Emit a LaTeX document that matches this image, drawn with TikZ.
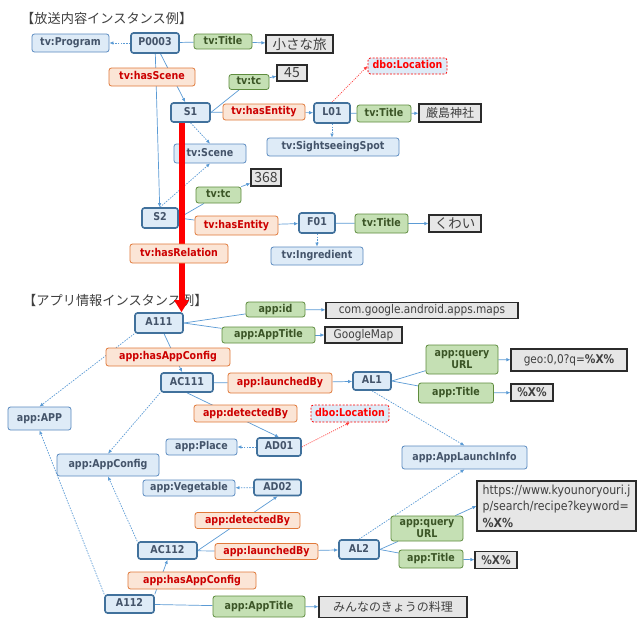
\documentclass[tikz,border=0pt]{standalone}
\usepackage{fontspec}
\setmainfont{DejaVu Sans}[FakeStretch=0.88]
\newfontfamily\jp{Noto Sans CJK JP}
\usetikzlibrary{arrows.meta}

\definecolor{bluefill}{HTML}{DEEBF7}
\definecolor{clsline}{HTML}{5A8AC0}
\definecolor{instline}{HTML}{41719C}
\definecolor{slate}{HTML}{44546A}
\definecolor{propfill}{HTML}{FBE5D6}
\definecolor{propline}{HTML}{E0793A}
\definecolor{proptext}{HTML}{CC0000}
\definecolor{attrfill}{HTML}{C5E0B4}
\definecolor{attrline}{HTML}{5E8C3E}
\definecolor{attrtext}{HTML}{3B5526}
\definecolor{litfill}{HTML}{E6E6E6}
\definecolor{litline}{HTML}{2B2B2B}
\definecolor{littext}{HTML}{404040}
\definecolor{edge}{HTML}{5B9BD5}
\definecolor{dboline}{HTML}{FF3B3B}
\definecolor{headtext}{HTML}{404040}

\newcommand\labfont{\bfseries\fontsize{10.8}{12.5}\selectfont}
\newcommand\litfont{\fontsize{12}{14}\selectfont}

\pgfdeclarelayer{bg}
\pgfsetlayers{bg,main}

\tikzset{
  box/.style={rounded corners=2.5pt, inner sep=0pt, align=center, font=\labfont},
  oneline/.style={text height=8pt, text depth=2.3pt},
  cls/.style={box, oneline, draw=clsline, line width=0.8pt, fill=bluefill, text=slate},
  inst/.style={box, oneline, draw=instline, line width=1.6pt, fill=bluefill, text=slate},
  prop/.style={box, oneline, draw=propline, line width=0.8pt, fill=propfill, text=proptext},
  attrbase/.style={box, draw=attrline, line width=0.8pt, fill=attrfill, text=attrtext},
  attr/.style={attrbase, oneline},
  dbo/.style={box, oneline, draw=red, dash pattern=on 2pt off 1.5pt, line width=0.8pt, fill=bluefill, text=red},
  lit/.style={draw=litline, line width=1.1pt, fill=litfill, text=littext, inner sep=0pt, font=\litfont},
  jplit/.style={lit, font=\jp\fontsize{#1}{15}\selectfont},
  head/.style={anchor=west, inner sep=0pt, text=headtext, font=\jp\fontsize{13.2}{15}\selectfont},
  link/.style={draw=edge, line width=0.7pt},
  arr/.style={link, -{Latex[length=4pt,width=3.5pt]}},
  typ/.style={arr, dash pattern=on 1.5pt off 1.2pt},
  reltyp/.style={draw=dboline, line width=0.7pt, dash pattern=on 1pt off 1.2pt, -{Latex[length=4pt,width=3.5pt]}},
  bigred/.style={draw=red, line width=6pt, -{Triangle[length=12pt,width=14pt]}},
  wh/.style 2 args={minimum width=#1, minimum height=#2},
}

\begin{document}
\begin{tikzpicture}[x=1pt,y=-1pt]
\useasboundingbox (0,0) rectangle (637,619);

% ---------- broadcast content instances ----------
\node[head] (head1) at (21,18.5) {【放送内容インスタンス例】};

\node[cls, wh={77}{18}] (tvProgram) at (70.5,43) {tv:Program};
\node[inst, wh={48}{20}] (P0003) at (155,43) {P0003};
\node[attr, wh={58}{15}] (tvTitle1) at (223,41.5) {tv:Title};
\node[jplit=13.5, wh={67}{18}] (lit1) at (299.5,44) {小さな旅};
\node[prop, wh={86}{18}] (hasScene) at (152,77) {tv:hasScene};
\node[attr, wh={40}{15}] (tc1) at (249,82) {tv:tc};
\node[jplit=14, wh={30}{16}] (v45) at (292,73) {45};
\node[inst, wh={39}{19}] (S1) at (190.5,112.5) {S1};
\node[prop, wh={82}{16}] (hasEnt1) at (264,112) {tv:hasEntity};
\node[inst, wh={36}{20}] (L01) at (332,113) {L01};
\node[attr, wh={54}{17}] (tvTitle2) at (384,113.5) {tv:Title};
\node[jplit=12, wh={62}{18}] (lit2) at (450,113) {厳島神社};
\node[dbo, wh={79}{16}] (dbo1) at (407.5,66) {dbo:Location};
\node[cls, wh={132}{18}] (SS) at (333,147) {tv:SightseeingSpot};
\node[cls, wh={72}{19}] (Scene) at (210,153.5) {tv:Scene};
\node[attr, wh={45}{16}] (tc2) at (218.5,195) {tv:tc};
\node[jplit=14, wh={30}{17}] (v368) at (266,177.5) {368};
\node[inst, wh={36}{20}] (S2) at (160,218) {S2};
\node[prop, wh={83}{19}] (hasEnt2) at (236.5,225.5) {tv:hasEntity};
\node[inst, wh={36}{20}] (F01) at (317,223) {F01};
\node[attr, wh={53}{19}] (tvTitle3) at (381.5,223.5) {tv:Title};
\node[jplit=13.5, wh={52}{17}] (lit3) at (455,223.5) {くわい};
\node[cls, wh={92}{18}] (Ingr) at (317,256) {tv:Ingredient};

% ---------- app information instances ----------
\node[head] (head2) at (23,300) {【アプリ情報インスタンス例】};

\node[inst, wh={48}{20}] (A111) at (159,323) {A111};
\node[attr, wh={59}{15}] (appid) at (275.5,309.5) {app:id};
\node[lit, wh={192}{16}] (vcom) at (422,310.5) {com.google.android.apps.maps};
\node[attr, wh={93}{16}] (appTitle1) at (268.5,335) {app:AppTitle};
\node[lit, wh={77}{16}] (vGM) at (363.5,335) {GoogleMap};
\node[prop, wh={124}{18}] (hac1) at (168,357) {app:hasAppConfig};
\node[inst, wh={52}{19}] (AC111) at (187,382.5) {AC111};
\node[prop, wh={104}{20}] (lb1) at (280,383) {app:launchedBy};
\node[inst, wh={38}{18}] (AL1) at (372,381) {AL1};
\node[attrbase, wh={72}{29}] (qurl1) at (462,359.5) {app:query\\URL};
\node[lit, wh={116}{22}] (vgeo) at (569,360) {geo:0,0?q=\textbf{\%X\%}};
\node[attr, wh={75}{20}] (title1) at (456,393) {app:Title};
\node[lit, wh={42}{17}] (vpct1) at (532,392.5) {\textbf{\%X\%}};
\node[prop, wh={103}{17}] (dB1) at (245.5,413.5) {app:detectedBy};
\node[dbo, wh={78}{17}] (dbo2) at (350,413.5) {dbo:Location};
\node[cls, wh={63}{23}] (APP) at (39.5,418.5) {app:APP};
\node[cls, wh={71}{16}] (Place) at (201.5,447) {app:Place};
\node[inst, wh={44}{18}] (AD01) at (279,447) {AD01};
\node[cls, wh={102}{22}] (AppConfig) at (108,465) {app:AppConfig};
\node[cls, wh={125}{23}] (ALI) at (464.5,457.5) {app:AppLaunchInfo};
\node[cls, wh={92}{16}] (Veg) at (189,488) {app:Vegetable};
\node[inst, wh={47}{16}] (AD02) at (277.5,487.5) {AD02};
\node[prop, wh={105}{16}] (dB2) at (247.5,520.5) {app:detectedBy};
\node[lit, wh={159}{50}, align=left, font=\fontsize{12.5}{16.5}\selectfont] (https) at (556.5,506)
  {https://www.kyounoryouri.j\\p/search/recipe?keyword=\\\textbf{\%X\%}};
\node[attrbase, wh={72}{25}] (qurl2) at (427,528.5) {app:query\\URL};
\node[inst, wh={59}{17}] (AC112) at (167.5,550.5) {AC112};
\node[prop, wh={103}{16}] (lb2) at (266.5,551.5) {app:launchedBy};
\node[inst, wh={40}{19}] (AL2) at (359,549.5) {AL2};
\node[attr, wh={64}{18}] (title2) at (431,559) {app:Title};
\node[lit, wh={42}{17}] (vpct2) at (496,560) {\textbf{\%X\%}};
\node[prop, wh={128}{17}] (hac2) at (192,580.5) {app:hasAppConfig};
\node[inst, wh={49}{18}] (A112) at (129.5,604) {A112};
\node[attr, wh={92}{21}] (appTitle2) at (259,606.5) {app:AppTitle};
\node[jplit=12, wh={148}{21}] (vmin) at (393,607) {みんなのきょうの料理};

% ---------- connectors (behind the nodes) ----------
\begin{pgfonlayer}{bg}
  \fill[white] (0,0) rectangle (637,619);

  \draw[typ] (P0003) -- (tvProgram);
  \draw[link] (P0003) -- (tvTitle1);
  \draw[arr] (tvTitle1) -- (lit1);
  \draw[arr] (P0003) -- (S1);
  \draw[arr] (P0003) -- (S2);
  \draw[link] (S1.east) -- (tc1);
  \draw[arr] (tc1) -- (v45);
  \draw[link] (S1) -- (hasEnt1);
  \draw[arr] (hasEnt1) -- (L01);
  \draw[link] (L01) -- (tvTitle2);
  \draw[arr] (tvTitle2) -- (lit2);
  \draw[reltyp] (L01.north) -- (dbo1.west);
  \draw[typ] (L01.south) -- (L01.south |- SS.north);
  \draw[typ] (S1.south) -- (Scene.north);
  \draw[typ] (S2.north) -- (Scene.south);
  \draw[link] (S2.east) -- (tc2);
  \draw[arr] (tc2) -- (v368);
  \draw[link] (S2.east) -- (hasEnt2);
  \draw[arr] (hasEnt2) -- (F01);
  \draw[link] (F01) -- (tvTitle3);
  \draw[arr] (tvTitle3) -- (lit3);
  \draw[typ] (F01.south) -- (F01.south |- Ingr.north);

  \draw[link] (A111.east) -- (appid);
  \draw[arr] (appid) -- (vcom);
  \draw[link] (A111.east) -- (appTitle1);
  \draw[arr] (appTitle1) -- (vGM);
  \draw[arr] (A111) -- (AC111);
  \draw[typ] (A111.south west) -- (APP.north);
  \draw[typ] (AC111.south west) -- (AppConfig.north);
  \draw[link] (AC111) -- (lb1);
  \draw[arr] (lb1) -- (AL1);
  \draw[arr] (AC111.south) -- (AD01.north);
  \draw[link] (AL1.east) -- (qurl1);
  \draw[arr] (qurl1) -- (vgeo);
  \draw[link] (AL1.east) -- (title1);
  \draw[arr] (title1) -- (vpct1);
  \draw[typ] (AL1.south) -- (ALI.north);
  \draw[typ] (AD01) -- (Place);
  \draw[reltyp] (AD01.east) -- (dbo2.south);
  \draw[typ] (AD02) -- (Veg);
  \draw[arr] (AC112.east) -- (AD02.south);
  \draw[typ] (AC112.north west) -- (AppConfig.south);
  \draw[link] (AC112) -- (lb2);
  \draw[arr] (lb2) -- (AL2);
  \draw[link] (AL2.east) -- (qurl2);
  \draw[arr] (qurl2) -- (https.west);
  \draw[link] (AL2.east) -- (title2);
  \draw[arr] (title2) -- (vpct2);
  \draw[typ] (AL2.north) -- (ALI.south);
  \draw[arr] (A112.north east) -- (AC112.south);
  \draw[typ] (A112.north west) -- (APP.south);
  \draw[link] (A112) -- (appTitle2);
  \draw[arr] (appTitle2) -- (vmin);
\end{pgfonlayer}

% relation from the scene to the app instance
\draw[bigred] ([xshift=-9pt]S1.south) -- ([xshift=-9pt]S1.south |- A111.north);
\node[prop, wh={98}{19}] (hasRel) at (179,253.5) {tv:hasRelation};
\end{tikzpicture}
\end{document}
